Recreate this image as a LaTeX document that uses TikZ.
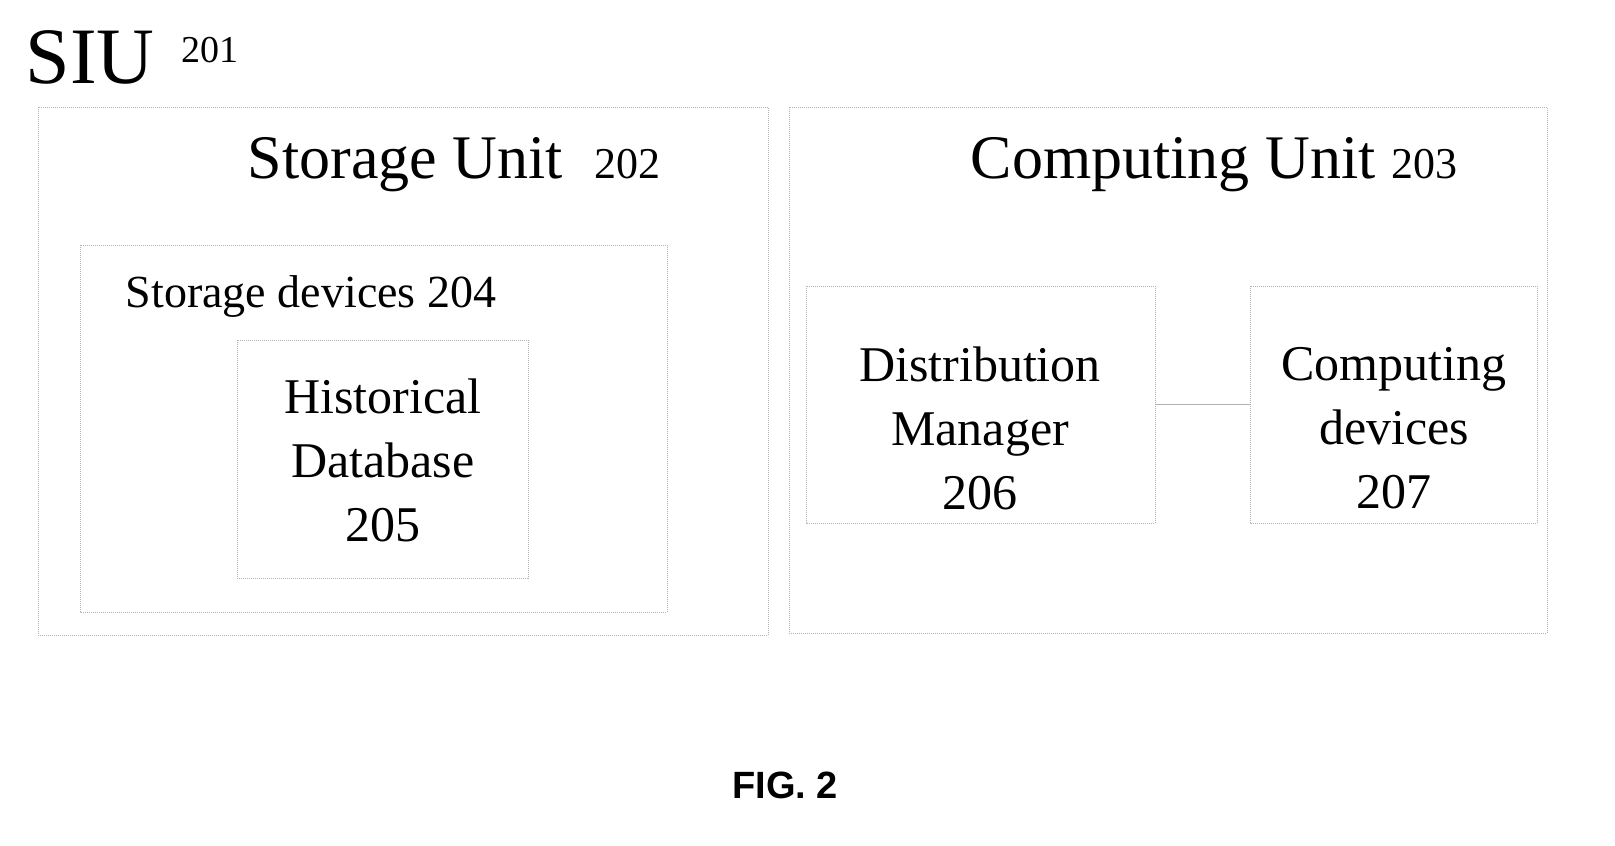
\documentclass[tikz,border=0pt]{standalone}
\usepackage{fontspec}
\setmainfont{Liberation Serif}
\newfontfamily\figfont{Liberation Sans}
\begin{document}
\begin{tikzpicture}[x=1pt,y=-1pt,
  box/.style={draw=gray!60,densely dotted,line width=1pt},
  lbl/.style={inner sep=0pt,anchor=center,align=center},
  big/.style={font=\fontsize{50}{64}\selectfont}]
\useasboundingbox (0,0) rectangle (1615,846);
\node[lbl,font=\fontsize{80}{80}\selectfont] (siu) at (90,57) {SIU};
\node[lbl,font=\fontsize{38}{38}\selectfont] (n201) at (210,50) {201};
\draw[box] (38,107) rectangle (768,635);
\draw[box] (789,107) rectangle (1547,633);
\draw[box] (80,245) rectangle (667,612);
\draw[box] (237,340) rectangle (528,578);
\draw[box] (806,286) rectangle (1155,523);
\node (dm) at (980.5,404.5) [minimum width=349pt,minimum height=237pt] {};
\node (cd) at (1393.5,404.5) [minimum width=287pt,minimum height=237pt] {};
\draw[box] (1250,286) rectangle (1537,523);
\draw[draw=gray!60,line width=1pt] (dm.east) -- (cd.west);
\node[lbl] (su) at (454,165) {\fontsize{62}{62}\selectfont Storage Unit\ \ \fontsize{44}{44}\selectfont 202};
\node[lbl] (cu) at (1214,165) {\fontsize{62}{62}\selectfont Computing Unit \fontsize{44}{44}\selectfont 203};
\node[lbl,font=\fontsize{46}{46}\selectfont] (sd) at (311,297) {Storage devices 204};
\node[lbl,big] (hd) at (383,460) {Historical\\Database\\205};
\node[lbl,big] at (980,428) {Distribution\\Manager\\206};
\node[lbl,big] at (1394,428) {Computing\\devices\\207};
\node[lbl,font=\figfont\bfseries\fontsize{38}{38}\selectfont] (fig) at (785,785) {FIG. 2};
\end{tikzpicture}
\end{document}
